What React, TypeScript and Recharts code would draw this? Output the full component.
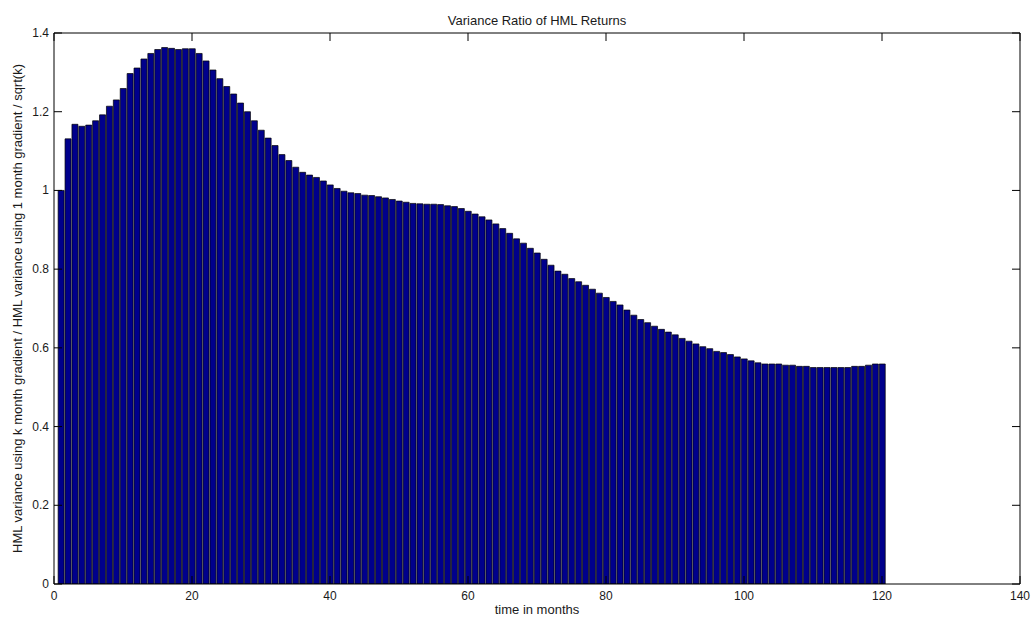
import React from 'react';
import { BarChart, Bar, XAxis, YAxis } from 'recharts';

const varianceRatio: number[] = [
  1.0, 1.131, 1.168, 1.163, 1.166, 1.177, 1.192, 1.214, 1.23, 1.259,
  1.297, 1.311, 1.334, 1.348, 1.358, 1.363, 1.361, 1.358, 1.36, 1.36,
  1.348, 1.329, 1.306, 1.284, 1.264, 1.245, 1.222, 1.2, 1.177, 1.153,
  1.133, 1.114, 1.091, 1.076, 1.059, 1.046, 1.039, 1.033, 1.024, 1.014,
  1.005, 0.998, 0.994, 0.992, 0.988, 0.987, 0.984, 0.981, 0.977, 0.973,
  0.97, 0.967, 0.966, 0.965, 0.965, 0.964, 0.961, 0.959, 0.954, 0.947,
  0.94, 0.933, 0.925, 0.915, 0.903, 0.891, 0.877, 0.866, 0.853, 0.841,
  0.825, 0.81, 0.795, 0.787, 0.776, 0.768, 0.759, 0.749, 0.739, 0.728,
  0.718, 0.709, 0.696, 0.683, 0.672, 0.664, 0.655, 0.647, 0.64, 0.633,
  0.624, 0.617, 0.61, 0.603, 0.598, 0.591, 0.588, 0.583, 0.577, 0.572,
  0.567, 0.562, 0.559, 0.559, 0.559, 0.556, 0.556, 0.553, 0.553, 0.55,
  0.55, 0.55, 0.55, 0.55, 0.55, 0.553, 0.553, 0.556, 0.559, 0.559,
];

const xTicks: number[] = [0, 20, 40, 60, 80, 100, 120, 140];
const yTicks: number[] = [0, 0.2, 0.4, 0.6, 0.8, 1, 1.2, 1.4];

const titleText = 'Variance Ratio of HML Returns';
const xLabelText = 'time in months';
const yLabelText = 'HML variance using k month gradient / HML variance using 1 month gradient / sqrt(k)';

const data = varianceRatio.map((v, i) => ({ k: i + 1, ratio: v }));

const FONT = "'Liberation Sans', Arial, Helvetica, sans-serif";
const TEXT_COLOR = '#1a1a1a';
const TICK_LEN = 8;
const TICK_FONT = 12;
const LABEL_FONT = 13;

const BottomTick = (props: any) => {
  const { x, y, payload } = props;
  return (
    <g>
      <line x1={x} x2={x} y1={y} y2={y - TICK_LEN} stroke="#000" strokeWidth={1} />
      <text x={x} y={y + 16} textAnchor="middle" fontSize={TICK_FONT} fontFamily={FONT} fill={TEXT_COLOR}>
        {payload.value}
      </text>
    </g>
  );
};

const TopTick = (props: any) => {
  const { x, y } = props;
  return <line x1={x} x2={x} y1={y} y2={y + TICK_LEN} stroke="#000" strokeWidth={1} />;
};

const LeftTick = (props: any) => {
  const { x, y, payload } = props;
  return (
    <g>
      <line x1={x} x2={x + TICK_LEN} y1={y} y2={y} stroke="#000" strokeWidth={1} />
      <text x={x - 5} y={y + 4} textAnchor="end" fontSize={TICK_FONT} fontFamily={FONT} fill={TEXT_COLOR}>
        {payload.value}
      </text>
    </g>
  );
};

const RightTick = (props: any) => {
  const { x, y } = props;
  return <line x1={x} x2={x - TICK_LEN} y1={y} y2={y} stroke="#000" strokeWidth={1} />;
};

const TitleLabel = (props: any) => {
  const { viewBox } = props;
  const cx = viewBox.x + viewBox.width / 2;
  return (
    <text x={cx} y={25} textAnchor="middle" fontSize={LABEL_FONT} fontFamily={FONT} fill={TEXT_COLOR}>
      {titleText}
    </text>
  );
};

const XLabel = (props: any) => {
  const { viewBox } = props;
  const cx = viewBox.x + viewBox.width / 2;
  return (
    <text x={cx} y={viewBox.y + 30} textAnchor="middle" fontSize={LABEL_FONT} fontFamily={FONT} fill={TEXT_COLOR}>
      {xLabelText}
    </text>
  );
};

const YLabel = (props: any) => {
  const { viewBox } = props;
  const cx = viewBox.x + 22;
  const cy = viewBox.y + viewBox.height / 2;
  return (
    <text
      x={cx}
      y={cy}
      transform={`rotate(-90 ${cx} ${cy})`}
      textAnchor="middle"
      fontSize={LABEL_FONT}
      fontFamily={FONT}
      fill={TEXT_COLOR}
    >
      {yLabelText}
    </text>
  );
};

export default function App() {
  return (
    <div style={{ position: 'absolute', left: 0, top: 0, width: 1032, height: 618, background: '#fff' }}>
      <BarChart
        width={1032}
        height={618}
        data={data}
        margin={{ top: 0, right: 0, bottom: 0, left: 0 }}
        barCategoryGap="10%"
      >
        <XAxis
          xAxisId="bottom"
          dataKey="k"
          type="number"
          domain={[0, 140]}
          ticks={xTicks}
          interval={0}
          height={34}
          tickSize={0}
          tickMargin={0}
          tick={<BottomTick />}
          axisLine={{ stroke: '#000', strokeWidth: 1 }}
          tickLine={false}
          allowDataOverflow
          label={<XLabel />}
        />
        <XAxis
          xAxisId="top"
          orientation="top"
          dataKey="k"
          type="number"
          domain={[0, 140]}
          ticks={xTicks}
          interval={0}
          height={33}
          tickSize={0}
          tickMargin={0}
          tick={<TopTick />}
          axisLine={{ stroke: '#000', strokeWidth: 1 }}
          tickLine={false}
          allowDataOverflow
          label={<TitleLabel />}
        />
        <YAxis
          yAxisId="left"
          type="number"
          domain={[0, 1.4]}
          ticks={yTicks}
          interval={0}
          width={54}
          tickSize={0}
          tickMargin={0}
          tick={<LeftTick />}
          axisLine={{ stroke: '#000', strokeWidth: 1 }}
          tickLine={false}
          allowDataOverflow
          label={<YLabel />}
        />
        <YAxis
          yAxisId="right"
          orientation="right"
          type="number"
          domain={[0, 1.4]}
          ticks={yTicks}
          interval={0}
          width={12}
          tickSize={0}
          tickMargin={0}
          tick={<RightTick />}
          axisLine={{ stroke: '#000', strokeWidth: 1 }}
          tickLine={false}
          allowDataOverflow
        />
        <Bar
          dataKey="ratio"
          xAxisId="bottom"
          yAxisId="left"
          fill="#00008C"
          stroke="#000"
          strokeWidth={0.7}
          isAnimationActive={false}
        />
      </BarChart>
    </div>
  );
}
